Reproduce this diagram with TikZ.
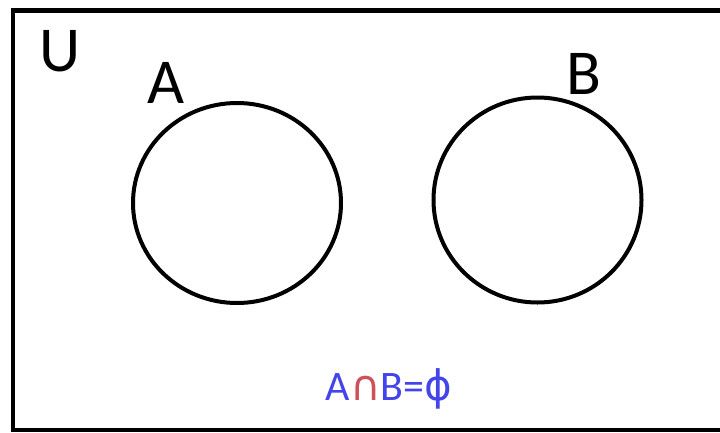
\documentclass[tikz,border=0pt]{standalone}
\usepackage{fontspec}
\setmainfont{Carlito}
\newfontfamily\symfont{DejaVu Sans}
\usetikzlibrary{shapes.geometric}
\definecolor{setblue}{RGB}{68,68,235}
\definecolor{capred}{RGB}{205,80,90}
\tikzset{
  setring/.style={draw, ellipse, line width=4pt, inner sep=0pt},
  setname/.style={inner sep=0pt, font=\fontsize{64}{64}\selectfont}
}
\begin{document}
\begin{tikzpicture}[x=1pt, y=-1pt]
  \useasboundingbox (0,0) rectangle (720,432);
  \clip (0,0) rectangle (720,432);
  \fill[white] (0,0) rectangle (720,432);
  % Universal set
  \draw[line width=4.5pt] (13,10.5) rectangle (740,430);
  \node[setname] (U) at (60,51) {U};
  % Disjoint sets
  \node[setring, minimum width=208pt, minimum height=200pt] (setA) at (237,203) {};
  \node[setring, minimum width=208pt, minimum height=205pt] (setB) at (537.5,200) {};
  \node[setname] (labA) at (166,83) {A};
  \node[setname] (labB) at (584,74) {B};
  % Statement
  \node[inner sep=0pt, anchor=base, font=\fontsize{42}{42}\selectfont] (eq) at (389,400)
    {\textcolor{setblue}{A}\textcolor{capred}{\symfont ∩}\textcolor{setblue}{B=\symfont ϕ}};
\end{tikzpicture}
\end{document}
